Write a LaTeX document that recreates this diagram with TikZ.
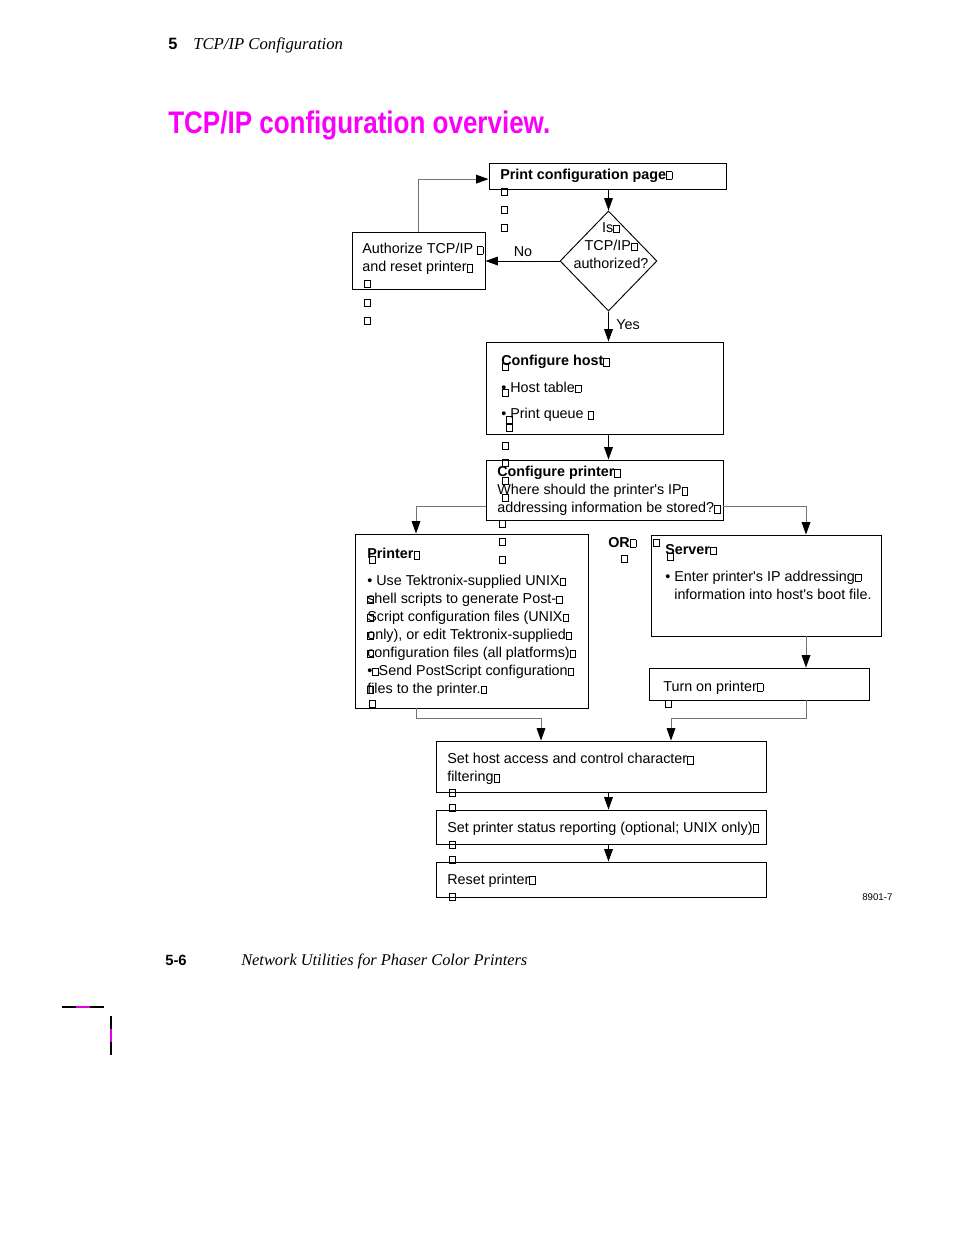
\documentclass[tikz,border=0pt]{standalone}
\usepackage{graphicx}
\usepackage{fontspec}
\setmainfont{Liberation Sans}
\newfontfamily\bookfont{Liberation Serif}
\usetikzlibrary{arrows.meta,fit,shapes.geometric}
\definecolor{titlemag}{RGB}{250,0,250}
\definecolor{cropmag}{RGB}{225,0,225}
\newcommand\fnine{\fontsize{9.2}{11.55}\selectfont}
\newcommand\missbox{{\fboxsep=0pt\fboxrule=0.45pt\fbox{\rule{0pt}{4.4pt}\kern3.2pt}}}
\tikzset{
  stepbox/.style={draw, line width=0.6pt, inner sep=0pt},
  txt/.style={inner sep=0pt, anchor=north west, align=left, font=\fnine},
  flow/.style={line width=0.6pt, -{Triangle[length=8pt,width=5.6pt]}},
  link/.style={line width=0.6pt, draw=black!55, -{Triangle[length=8pt,width=5.6pt,color=black]}},
}
\begin{document}
\begin{tikzpicture}[x=0.6415pt,y=-0.6415pt]
  \useasboundingbox (0,0) rectangle (954,1235);
  % running head and title
  \node[inner sep=0pt, anchor=base west, font=\fontsize{10.5}{12}\selectfont\bfseries] (chapno) at (168,49) {5};
  \node[inner sep=0pt, anchor=base west, font=\bookfont\itshape\fontsize{10.7}{12}\selectfont] (chapname) at (193,49) {TCP/IP Configuration};
  \node[inner sep=0pt, anchor=base west, text=titlemag, font=\fontsize{20}{24}\selectfont\bfseries] (title) at (168,133) {\scalebox{0.834}[1]{TCP/IP configuration overview.}};
  % top: print page, question, authorize
  \node[stepbox, fit={(489,163) (726,189)}] (printpage) {};
  \node[txt, anchor=base west, font=\fnine\bfseries] (printpagetxt) at (500,179) {Print configuration page\missbox};
  \node[stepbox, diamond, minimum width=62.2pt, minimum height=64.2pt] (authq) at (608.5,261) {};
  \node[txt, anchor=north, align=center] (authqtxt) at (611,222) {Is\missbox\\TCP/IP\missbox\\authorized?};
  \node[stepbox, fit={(352,232) (485,289)}] (authorize) {};
  \node[txt] (authorizetxt) at (362,243) {Authorize TCP/IP \missbox\\and reset printer\missbox};
  \node[txt, anchor=base] (nolbl) at (523,256) {No};
  \node[txt, anchor=base] (yeslbl) at (628,329) {Yes};
  % host and printer setup
  \node[stepbox, fit={(486,342) (723,434)}] (confhost) {};
  \node[txt] (confhosttxt) at (501,355) {\textbf{Configure host\missbox}\\[5.4pt]\textbullet\ Host table\missbox\\[5.6pt]\textbullet\ Print queue \missbox};
  \node[stepbox, fit={(486,460) (723,520)}] (confprinter) {};
  \node[txt] (confprintertxt) at (497,466) {\textbf{Configure printer\missbox}\\Where should the printer\textquotesingle s IP\missbox\\addressing information be stored?\missbox};
  % the two ways
  \node[stepbox, fit={(355,534) (588,708)}] (prtfiles) {};
  \node[txt] (prtfilestxt) at (367,548) {\textbf{Printer\missbox}\\[5.4pt]\textbullet\ Use Tektronix-supplied UNIX\missbox\\
    \rlap{\missbox}shell scripts to generate Post-\missbox\\
    \rlap{\missbox}Script configuration files (UNIX\missbox\\
    \rlap{\missbox}only), or edit Tektronix-supplied\missbox\\
    \rlap{\missbox}configuration files (all platforms)\missbox\\
    \textbullet\missbox Send PostScript configuration\missbox\\
    \rlap{\missbox}files to the printer.\missbox};
  \node[txt, anchor=base west, font=\fnine\bfseries] (orlbl) at (608,547) {OR\missbox};
  \node[stepbox, fit={(651,535) (881,636)}] (server) {};
  \node[txt] (servertxt) at (665,544) {\textbf{Server\missbox}\\[5.6pt]\textbullet\ Enter printer\textquotesingle s IP addressing\missbox\\\phantom{\textbullet\ }information into host\textquotesingle s boot file.};
  \node[stepbox, fit={(649,668) (869,700)}] (turnon) {};
  \node[txt, anchor=base west] (turnontxt) at (663,691) {Turn on printer\missbox};
  % common steps
  \node[stepbox, fit={(436,741) (766,792)}] (hostaccess) {};
  \node[txt] (hostaccesstxt) at (447,753) {Set host access and control character\missbox\\filtering\missbox};
  \node[stepbox, fit={(436,810) (766,844)}] (status) {};
  \node[txt, anchor=base west] (statustxt) at (447,832) {Set printer status reporting (optional; UNIX only)\missbox};
  \node[stepbox, fit={(436,862) (766,897)}] (reset) {};
  \node[txt, anchor=base west] (resettxt) at (447,884) {Reset printer\missbox};
  \node[inner sep=0pt, anchor=base west, font=\fontsize{6.2}{7}\selectfont] (figno) at (862,900) {8901-7};
  % connectors
  \coordinate (spine) at (608.5,0);
  \coordinate (lbranch) at (416,506);
  \coordinate (rbranch) at (806,506);
  \coordinate (lmerge) at (541,718);
  \coordinate (rmerge) at (671,718);
  \draw[flow] (spine |- printpage.south) -- (authq.north);
  \draw[flow] (authq.west) -- (authq.west -| authorize.east);
  \draw[link] (authorize.north) |- ([yshift=-2pt]printpage.west);
  \draw[flow] (authq.south) -- (spine |- confhost.north);
  \draw[flow] (spine |- confhost.south) -- (spine |- confprinter.north);
  \draw[link] (confprinter.west |- lbranch) -- (lbranch) -- (lbranch |- prtfiles.north);
  \draw[link] (confprinter.east |- rbranch) -- (rbranch) -- (rbranch |- server.north);
  \draw[link] (rbranch |- server.south) -- (rbranch |- turnon.north);
  \draw[link] (lbranch |- prtfiles.south) |- (lmerge) -- (lmerge |- hostaccess.north);
  \draw[link] (rbranch |- turnon.south) |- (rmerge) -- (rmerge |- hostaccess.north);
  \draw[flow] (spine |- hostaccess.south) -- (spine |- status.north);
  \draw[flow] (spine |- status.south) -- (spine |- reset.north);
  % stray boxes
  \foreach \bx/\by in {504/192,504/210,504/228,367/284,367/303,367/321,505/367,505/393,509/420,509/428,
                       505/446,505/463,505/481,505/498,502/524,502/542,502/560,372/560,372/704,624/559,
                       656/543,670/557,668/704,452/793,452/808,452/845,452/860,452/897}
    \draw[line width=0.45pt] (\bx-3,\by-3.5) rectangle (\bx+3,\by+3.5);
  % running foot and crop marks
  \node[inner sep=0pt, anchor=base west, font=\fontsize{9.5}{11}\selectfont\bfseries] (pageno) at (165,965) {5-6};
  \node[inner sep=0pt, anchor=base west, font=\bookfont\itshape\fontsize{10.5}{12}\selectfont] (booktitle) at (241,965) {Network Utilities for Phaser Color Printers};
  \draw[line width=0.7pt] (62,1007) -- (76,1007) (90,1007) -- (104,1007);
  \draw[line width=0.7pt, cropmag] (76,1007) -- (90,1007);
  \draw[line width=0.7pt] (111,1016) -- (111,1029) (111,1042) -- (111,1055);
  \draw[line width=0.7pt, cropmag] (111,1029) -- (111,1042);
\end{tikzpicture}
\end{document}
